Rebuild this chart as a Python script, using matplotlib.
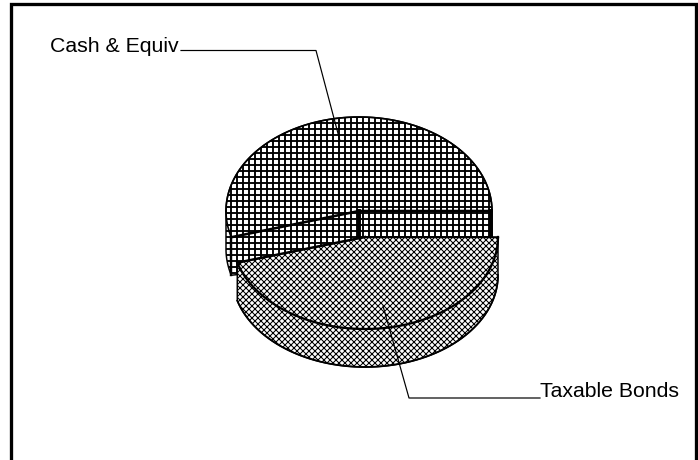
import matplotlib
matplotlib.use('Agg')
import matplotlib.pyplot as plt
import numpy as np
from matplotlib.patches import Polygon

# dados
categorias = ['Cash & Equiv', 'Taxable Bonds']
valores = [54.5, 45.5]

plt.rcParams['font.family'] = ['Liberation Sans', 'DejaVu Sans']

dpi = 108
fig = plt.figure(figsize=(698/dpi, 461/dpi), dpi=dpi)
ax = fig.add_axes([0, 0, 1, 1])
ax.set_xlim(0, 698)
ax.set_ylim(461, 0)
ax.axis('off')

# moldura sem a linha de baixo
ax.plot([10.5, 10.5, 696, 696], [461, 4.5, 4.5, 461], color='black', lw=2.2, solid_joinstyle='miter')

# angulo onde as duas fatias se encontram (0 = direita, sentido anti-horario na tela)
ang = 360*valores[0]/sum(valores)
a1, b1 = 133, 94
a2, b2 = 133, 92
cx1, cy1 = 359, 212   # cash
cx2, cy2 = 365, 238   # taxable, deslocada
prof = 38


def arco(cx, cy, a, b, t0, t1, n=200):
    t = np.radians(np.linspace(t0, t1, n))
    return cx + a*np.cos(t), cy - b*np.sin(t)


# fatia cash: contorno externo com a parede lateral
xs, ys = arco(cx1, cy1, a1, b1, 0, 180)
xw, yw = arco(cx1, cy1, a1, b1, 180, ang)
xcorte, ycorte = xw[-1], yw[-1]
px = np.concatenate([xs, xw, [cx1 + a1]])
py = np.concatenate([ys, yw + prof, [cy1 + prof]])
cash = Polygon(np.column_stack([px, py]), closed=True, facecolor='white',
               edgecolor='black', hatch='+++', lw=1.0, zorder=2)
cash.set_hatch_linewidth(1.25)
ax.add_patch(cash)
ax.plot(xs, ys, color='black', lw=1.1, zorder=3)
ax.plot(xw, yw, color='black', lw=1.1, zorder=3)

# arestas internas da fatia cash
ax.plot([xcorte, cx1, cx1 + a1 - 1], [ycorte, cy1, cy1], color='black', lw=1.7, zorder=3)
ax.plot([cx1, cx1], [cy1, cy1 + 27], color='black', lw=2.6, zorder=3)
ax.plot([cx1 + a1 - 1, cx1 + a1 - 1], [cy1, cy1 + 27], color='black', lw=2.6, zorder=3)
ax.plot([xcorte, xcorte], [ycorte, ycorte + prof], color='black', lw=1.6, zorder=3)

# fatia taxable
xs2, ys2 = arco(cx2, cy2, a2, b2, ang, 360)
px = np.concatenate([[cx2], [xs2[0]], xs2, [xs2[-1]]])
py = np.concatenate([[cy2], [ys2[0]], ys2 + prof, [ys2[-1]]])
taxable = Polygon(np.column_stack([px, py]), closed=True, facecolor='white',
                  edgecolor='black', hatch='xxxxxx', lw=1.0, zorder=4)
taxable.set_hatch_linewidth(0.7)
ax.add_patch(taxable)
ax.plot(xs2, ys2, color='black', lw=1.5, zorder=5)
ax.plot(xs2, ys2 + prof, color='black', lw=1.2, zorder=5)
ax.plot([xs2[0], cx2], [ys2[0], cy2], color='black', lw=1.6, zorder=5)
ax.plot([cx2, xs2[-1]], [cy2, ys2[-1]], color='black', lw=0.9, zorder=5)

# rotulos e linhas de chamada
ax.plot([181, 316, 340], [51.5, 51.5, 142], color='black', lw=0.8, zorder=6)
ax.plot([540, 409, 383], [399, 399, 307], color='black', lw=0.8, zorder=6)
ax.text(50, 51.5, categorias[0], fontsize=14.2, ha='left', va='baseline', zorder=6)
ax.text(540, 397.5, categorias[1], fontsize=14.2, ha='left', va='baseline', zorder=6)

plt.savefig('out.png', dpi=dpi)
